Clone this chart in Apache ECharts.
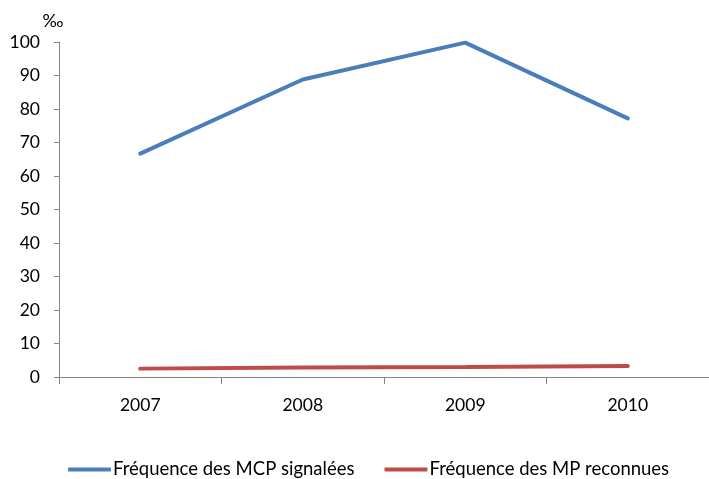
<!DOCTYPE html>
<html>
<head>
<meta charset="utf-8">
<script src="https://cdn.jsdelivr.net/npm/echarts@6/dist/echarts.min.js"></script>
<style>
  html, body { margin: 0; padding: 0; background: #fff; }
  #main { width: 709px; height: 479px; }
</style>
</head>
<body>
<div id="main"></div>
<script>
// Données
var years = ['2007', '2008', '2009', '2010'];
var mcpSignalees = [66.7, 88.8, 99.8, 77.2];
var mpReconnues = [2.5, 2.8, 3.0, 3.3];
var yTicks = [0, 100, 10];

var chartDom = document.getElementById('main');
var myChart = echarts.init(chartDom);
var option;

var font = 'Lato, "Liberation Sans", sans-serif';

option = {
  animation: false,
  textStyle: { fontFamily: font },
  grid: {
    left: 59,
    right: -4,
    top: 42,
    bottom: 102
  },
  legend: {
    top: 460,
    left: 68,
    padding: 0,
    itemWidth: 43,
    itemHeight: 4,
    itemGap: 30,
    icon: 'roundRect',
    textStyle: { fontSize: 18.5, color: '#000', fontFamily: font, padding: [0, 0, 0, -3] },
    data: ['Fréquence des MCP signalées', 'Fréquence des MP reconnues']
  },
  xAxis: {
    type: 'category',
    data: years,
    boundaryGap: true,
    axisLine: { lineStyle: { color: '#868686', width: 1 } },
    axisTick: { show: true, length: 7, lineStyle: { color: '#868686' } },
    axisLabel: { fontSize: 17.5, color: '#000', margin: 19 },
    splitLine: { show: false }
  },
  yAxis: {
    type: 'value',
    min: yTicks[0],
    max: yTicks[1],
    interval: yTicks[2],
    name: '‰',
    nameLocation: 'end',
    nameGap: 12,
    nameTextStyle: { fontSize: 18, color: '#000', align: 'center', padding: [0, 12, 0, 0] },
    axisLine: { show: true, lineStyle: { color: '#868686', width: 1 } },
    axisTick: { show: true, length: 5, lineStyle: { color: '#868686' } },
    axisLabel: { fontSize: 17.5, color: '#000', margin: 19 },
    splitLine: { show: false }
  },
  series: [
    {
      name: 'Fréquence des MCP signalées',
      type: 'line',
      data: mcpSignalees,
      showSymbol: false,
      symbol: 'none',
      itemStyle: { color: '#4a7ebb' },
      lineStyle: { color: '#4a7ebb', width: 4, cap: 'round' }
    },
    {
      name: 'Fréquence des MP reconnues',
      type: 'line',
      data: mpReconnues,
      showSymbol: false,
      symbol: 'none',
      itemStyle: { color: '#be4b48' },
      lineStyle: { color: '#be4b48', width: 4, cap: 'round' }
    }
  ]
};

option && myChart.setOption(option);
</script>
</body>
</html>
